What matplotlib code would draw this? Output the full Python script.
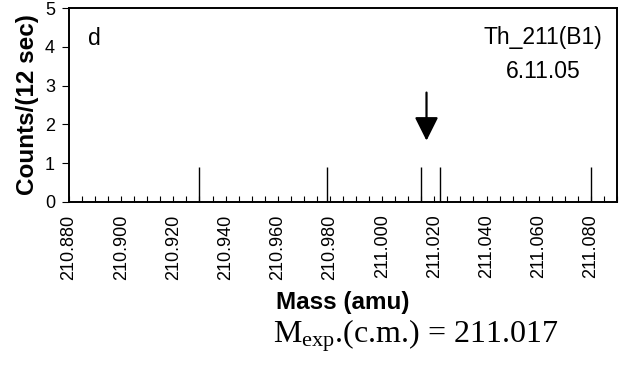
import matplotlib
matplotlib.use("Agg")
import matplotlib.pyplot as plt
from matplotlib.ticker import MultipleLocator, FormatStrFormatter

plt.rcParams['font.family'] = ['Liberation Sans', 'DejaVu Sans']
plt.rcParams['mathtext.fontset'] = 'custom'
plt.rcParams['mathtext.rm'] = 'Liberation Serif'
plt.rcParams['mathtext.it'] = 'Liberation Serif:italic'

# Detected ion events (mass in amu, counts per 12 s window)
peak_mass = [210.930, 210.979, 211.015, 211.022, 211.080]
peak_counts = [0.9, 0.9, 0.9, 0.9, 0.9]

# Experimental centre-of-mass value marked by the arrow
m_exp = 211.017
arrow_top = 2.82
arrow_tip = 1.58

x_min, x_max = 210.880, 211.090
y_min, y_max = 0, 5

fig = plt.figure(figsize=(6.25, 3.69), dpi=100)
ax = fig.add_axes([0.1104, 0.4526, 0.8768, 0.5257])

ax.vlines(peak_mass, 0, peak_counts, colors='black', linewidth=1.0)

ax.annotate('', xy=(m_exp, arrow_tip), xytext=(m_exp, arrow_top),
            arrowprops=dict(arrowstyle='-|>,head_length=0.72,head_width=0.36',
                            mutation_scale=20, color='black', lw=1.6,
                            shrinkA=0, shrinkB=0))

ax.set_xlim(x_min, x_max)
ax.set_ylim(y_min, y_max)

ax.xaxis.set_major_locator(MultipleLocator(0.020))
ax.xaxis.set_minor_locator(MultipleLocator(0.005))
ax.xaxis.set_major_formatter(FormatStrFormatter('%.3f'))
ax.yaxis.set_major_locator(MultipleLocator(1))

ax.tick_params(axis='x', which='both', direction='in', length=4, width=0.8,
               labelsize=13, rotation=90, pad=9)
ax.tick_params(axis='y', which='major', direction='out', length=5, width=0.8,
               labelsize=13, pad=5)

for s in ax.spines.values():
    s.set_linewidth(1.4)
    s.set_color('black')

ax.set_ylabel('Counts/(12 sec)', fontsize=17.5, fontweight='bold', labelpad=4)
ax.set_xlabel('Mass (amu)', fontsize=17.5, fontweight='bold', labelpad=8)

ax.text(0.047, 0.845, 'd', transform=ax.transAxes, fontsize=16.5,
        ha='center', va='center')
ax.text(0.865, 0.85, 'Th_211(B1)', transform=ax.transAxes, fontsize=16.5,
        ha='center', va='center')
ax.text(0.865, 0.675, '6.11.05', transform=ax.transAxes, fontsize=16.5,
        ha='center', va='center')

fig.text(416 / 625, 1 - 336 / 369,
         r'M$_{\mathrm{exp}}$.(c.m.) = 211.017',
         family='Liberation Serif', fontsize=23, ha='center', va='center')

fig.savefig('out.png', dpi=100)
